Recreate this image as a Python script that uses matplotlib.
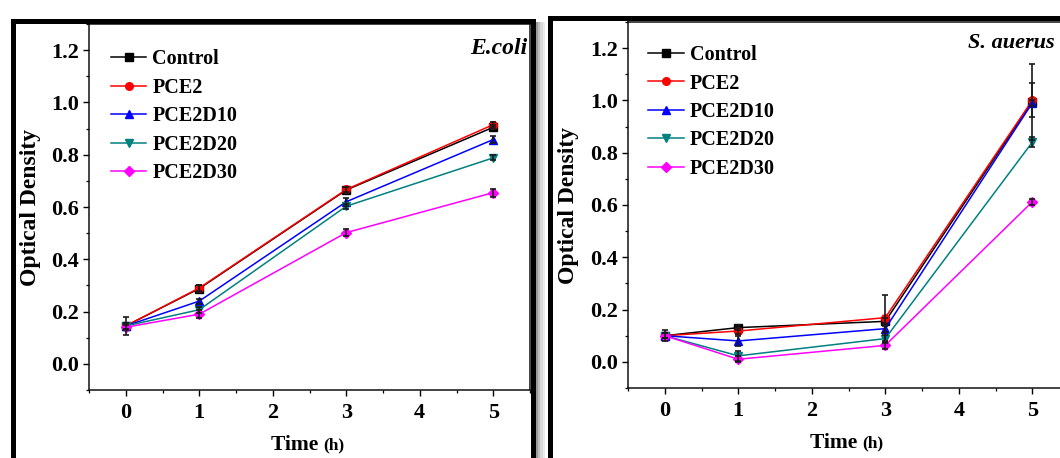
import matplotlib
matplotlib.use("Agg")
import matplotlib.pyplot as plt
from matplotlib.patches import Rectangle
from matplotlib.ticker import MultipleLocator

plt.rcParams['font.family'] = ['Liberation Serif', 'DejaVu Serif']
plt.rcParams['font.weight'] = 'bold'

# ---------------- data ----------------
time_h = [0, 1, 3, 5]
series_names = ['Control', 'PCE2', 'PCE2D10', 'PCE2D20', 'PCE2D30']
series_colors = ['#000000', '#FF0000', '#0000FF', '#008080', '#FF00FF']
series_markers = ['s', 'o', '^', 'v', 'D']

ecoli_control = [0.145, 0.288, 0.665, 0.905]
ecoli_pce2 = [0.145, 0.290, 0.667, 0.915]
ecoli_d10 = [0.145, 0.240, 0.620, 0.858]
ecoli_d20 = [0.145, 0.207, 0.603, 0.788]
ecoli_d30 = [0.140, 0.190, 0.502, 0.655]

ecoli_control_err = [0.035, 0.012, 0.010, 0.008]
ecoli_pce2_err = [0.010, 0.010, 0.010, 0.010]
ecoli_d10_err = [0.010, 0.010, 0.015, 0.015]
ecoli_d20_err = [0.010, 0.012, 0.010, 0.010]
ecoli_d30_err = [0.010, 0.015, 0.012, 0.015]

saureus_control = [0.100, 0.131, 0.155, 0.995]
saureus_pce2 = [0.100, 0.118, 0.169, 1.000]
saureus_d10 = [0.100, 0.080, 0.127, 0.990]
saureus_d20 = [0.100, 0.023, 0.089, 0.840]
saureus_d30 = [0.100, 0.010, 0.063, 0.612]

saureus_control_err = [0.022, 0.010, 0.012, 0.145]
saureus_pce2_err = [0.010, 0.012, 0.088, 0.065]
saureus_d10_err = [0.010, 0.020, 0.012, 0.012]
saureus_d20_err = [0.010, 0.020, 0.015, 0.020]
saureus_d30_err = [0.010, 0.012, 0.012, 0.012]

xtick_values = [0, 1, 2, 3, 4, 5]
ytick_values = [0.0, 0.2, 0.4, 0.6, 0.8, 1.0, 1.2]

panels = [
    dict(name='E.coli',
         values=[ecoli_control, ecoli_pce2, ecoli_d10, ecoli_d20, ecoli_d30],
         errors=[ecoli_control_err, ecoli_pce2_err, ecoli_d10_err, ecoli_d20_err, ecoli_d30_err]),
    dict(name='S. auerus',
         values=[saureus_control, saureus_pce2, saureus_d10, saureus_d20, saureus_d30],
         errors=[saureus_control_err, saureus_pce2_err, saureus_d10_err, saureus_d20_err, saureus_d30_err]),
]

# ---------------- layout (pixel based) ----------------
W, H = 1060, 458
fig = plt.figure(figsize=(W / 100, H / 100), dpi=100)
fig.patch.set_facecolor('white')


def fx(px):
    return px / W


def fy(py):
    return 1 - py / H


# axes boxes in pixels: left, top, right, bottom
axes_px = [(89, 24, 530, 390), (628, 22, 1069, 388)]
ylabel_x = [-0.108, -0.11]
name_pos = [(0.995, 0.933), (0.968, 0.943)]
name_size = [17, 16]
legend_anchor = [(0.050, 0.931), (0.046, 0.937)]

for p, (l, t, r, b), ylx, npos, nsz, lanc in zip(panels, axes_px, ylabel_x, name_pos,
                                                 name_size, legend_anchor):
    ax = fig.add_axes([fx(l), fy(b), fx(r) - fx(l), fy(t) - fy(b)])
    ax.set_facecolor('white')
    handles = []
    for vals, errs, col, mk, nm in zip(p['values'], p['errors'], series_colors,
                                      series_markers, series_names):
        ln, = ax.plot(time_h, vals, color=col, marker=mk, markersize=5.5,
                      linewidth=1.1, label=nm, zorder=2, clip_on=False)
        ax.errorbar(time_h, vals, yerr=errs, fmt='none', ecolor='#1a1a1a',
                    elinewidth=1.2, capsize=2.5, capthick=1.2, zorder=3)
        handles.append(ln)

    ax.set_xlim(-0.5, 5.5)
    ax.set_ylim(-0.1, 1.3)
    ax.set_xticks(xtick_values)
    ax.set_yticks(ytick_values)
    ax.set_yticklabels([f'{v:.1f}' for v in ytick_values])
    ax.xaxis.set_minor_locator(MultipleLocator(0.5))
    ax.yaxis.set_minor_locator(MultipleLocator(0.1))
    ax.tick_params(which='major', direction='out', length=4.5, width=1.0,
                   labelsize=16, pad=2.5, top=False, right=False)
    ax.tick_params(which='minor', direction='out', length=2.5, width=0.9,
                   top=False, right=False)
    ax.tick_params(axis='x', which='major', pad=5)
    for lab in ax.get_xticklabels() + ax.get_yticklabels():
        lab.set_fontweight('bold')
    for s in ax.spines.values():
        s.set_linewidth(1.1)
        s.set_color('#111111')

    ax.set_ylabel('Optical Density', fontsize=17, fontweight='bold')
    ax.yaxis.set_label_coords(ylx, 0.5)

    t1 = ax.text(0.5 - 0.028, -0.124, 'Time ', transform=ax.transAxes,
                 ha='center', va='top', fontsize=15.5, fontweight='bold')
    ax.annotate('(h)', xy=(1, 0), xycoords=t1, xytext=(0, 1.5),
                textcoords='offset points', ha='left', va='bottom',
                fontsize=12.5, fontweight='bold')

    ax.text(npos[0], npos[1], p['name'], transform=ax.transAxes, ha='right',
            va='center', fontsize=nsz, fontweight='bold', style='italic')

    ax.legend(handles=handles, loc='upper left', bbox_to_anchor=lanc,
              frameon=False, handlelength=1.75,
              handletextpad=0.3, labelspacing=0.42, borderpad=0,
              borderaxespad=0, numpoints=1,
              prop={'weight': 'bold', 'size': 14.5})

# ---------------- decorative frames ----------------
lw_pt = 5 * 72 / 100
# shadow to the right of the left frame
for i, g in enumerate(['#9a9a9a', '#bdbdbd', '#d8d8d8', '#ececec']):
    fig.add_artist(Rectangle((fx(535 + 2.5 * i), 0), fx(2.5), fy(22) - 0,
                             transform=fig.transFigure, facecolor=g,
                             edgecolor='none', zorder=5))
fig.add_artist(Rectangle((fx(12.5), fy(480)), fx(532.5) - fx(12.5), fy(20.5) - fy(480),
                         transform=fig.transFigure, fill=False,
                         edgecolor='black', linewidth=lw_pt, zorder=6))
fig.add_artist(Rectangle((fx(549.5), fy(480)), fx(1090) - fx(549.5), fy(17.5) - fy(480),
                         transform=fig.transFigure, fill=False,
                         edgecolor='black', linewidth=lw_pt, zorder=6))

fig.savefig('out.png', dpi=100, facecolor='white')
